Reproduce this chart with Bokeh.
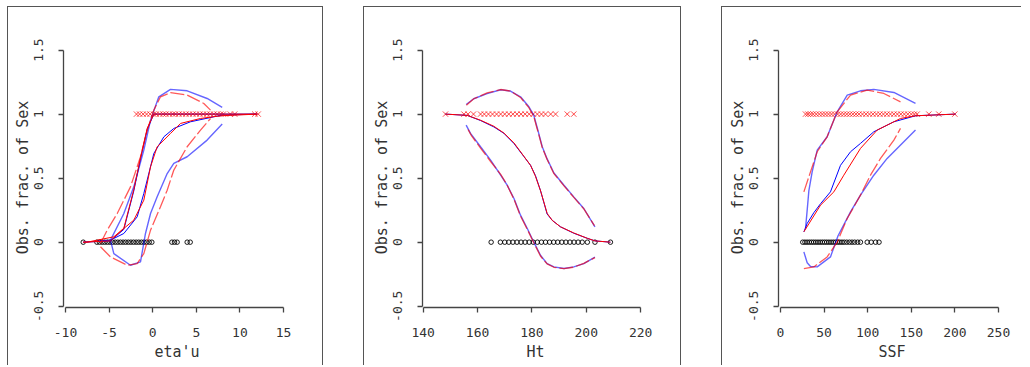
from bokeh.plotting import figure
from bokeh.layouts import row
from bokeh.models import Range1d, FixedTicker, NumeralTickFormatter
from bokeh.embed import file_html
from bokeh.resources import INLINE

# ---------------- data ----------------
# Panel 1 : eta'u
p1_sex1_x = [-1.86, -1.5, -1.1, -0.7, -0.3, 0.1, 0.4, 0.8, 1.2, 1.5, 1.9, 2.3, 2.6, 3.0, 3.4,
             3.8, 4.2, 4.6, 5.0, 5.4, 5.8, 6.2, 6.6, 7.0, 7.4, 7.8, 8.1, 8.9, 9.4, 11.7, 12.1]
p1_sex0_x = [-7.97, -6.4, -6.1, -5.8, -5.5, -5.2, -4.9, -4.6, -4.3, -4.0, -3.7, -3.4, -3.1, -2.8,
             -2.5, -2.2, -1.9, -1.6, -1.3, -1.0, -0.7, -0.4, -0.1, 2.2, 2.5, 2.8, 3.95, 4.3]
p1_blue_up_x = [-4.84, -3.31, -2.17, -1.02, -0.25, 0.70, 2.04, 3.95, 6.24, 7.97]
p1_blue_up_y = [0.016, 0.224, 0.432, 0.719, 0.953, 1.135, 1.193, 1.182, 1.122, 1.052]
p1_blue_fit_x = [-7.97, -4.84, -3.31, -1.78, -1.02, 0.13, 1.28, 2.42, 4.33, 7.01, 7.97, 11.98]
p1_blue_fit_y = [0.0, 0.016, 0.068, 0.198, 0.380, 0.693, 0.823, 0.888, 0.940, 0.979, 0.992, 1.0]
p1_blue_lo_x = [-4.84, -4.46, -2.55, -1.40, -0.83, -0.25, 0.51, 1.66, 2.42, 3.95, 6.24, 7.97]
p1_blue_lo_y = [0.016, -0.089, -0.180, -0.154, 0.068, 0.224, 0.354, 0.536, 0.615, 0.667, 0.797, 0.922]
p1_blue_st_x = [-7.97, -4.84, -3.31, -2.17, -1.40, -0.63, 0.13, 11.98]
p1_blue_st_y = [0.0, 0.01, 0.10, 0.40, 0.65, 0.88, 1.0, 1.0]
p1_red_up_x = [-5.99, -5.22, -4.07, -2.55, -1.40, -0.63, 0.13, 0.89, 2.04, 3.95, 5.86, 6.63]
p1_red_up_y = [-0.01, 0.094, 0.224, 0.432, 0.667, 0.875, 1.031, 1.135, 1.167, 1.148, 1.083, 1.031]
p1_red_fit_x = [-7.97, -7.52, -4.46, -2.17, -1.02, -0.25, 0.51, 2.04, 3.19, 5.48, 7.77, 11.98]
p1_red_fit_y = [0.0, 0.0, 0.042, 0.172, 0.328, 0.589, 0.745, 0.849, 0.927, 0.966, 0.987, 1.0]
p1_red_lo_x = [-5.99, -4.84, -2.93, -1.78, -1.02, -0.25, 0.89, 1.66, 2.42, 3.95, 5.48, 6.63]
p1_red_lo_y = [-0.036, -0.115, -0.180, -0.167, -0.089, 0.094, 0.276, 0.406, 0.563, 0.745, 0.875, 0.966]
p1_red_st_x = [-7.97, -4.84, -3.31, -2.17, -1.40, -0.63, 0.13, 11.98]
p1_red_st_y = [0.0, 0.01, 0.11, 0.41, 0.66, 0.89, 1.0, 1.0]

# Panel 2 : Ht
p2_sex1_x = [148.2, 155.0, 156.5, 158.5, 161.1, 162.5, 164.0, 165.5, 167.0, 168.5, 170.0, 171.5,
             173.0, 174.5, 176.0, 177.5, 179.0, 180.5, 182.0, 183.5, 185.0, 186.9, 188.7, 193.0, 195.4]
p2_sex0_x = [165.0, 168.4, 170.0, 171.5, 173.0, 174.5, 176.0, 177.5, 179.0, 180.5, 182.0, 183.5,
             185.0, 186.5, 188.0, 189.5, 191.0, 192.5, 194.0, 195.5, 197.0, 198.5, 200.4, 203.2, 208.9]
p2_blue_up_x = [155.8, 158.6, 163.5, 168.5, 172.1, 175.8, 178.9, 180.7, 182.0, 183.8, 185.6, 188.1, 191.8, 195.4, 199.1, 203.2]
p2_blue_up_y = [1.075, 1.12, 1.16, 1.19, 1.18, 1.135, 1.057, 0.99, 0.89, 0.745, 0.65, 0.54, 0.445, 0.354, 0.263, 0.12]
p2_blue_fit_x = [148.2, 156.2, 161.1, 166.0, 169.7, 173.4, 177.0, 179.5, 181.3, 183.2, 185.6, 187.5, 190.5, 195.4, 200.4, 203.2, 208.9]
p2_blue_fit_y = [1.0, 0.99, 0.95, 0.90, 0.85, 0.77, 0.67, 0.60, 0.52, 0.40, 0.22, 0.17, 0.12, 0.07, 0.03, 0.01, 0.0]
p2_blue_lo_x = [155.8, 157.4, 161.1, 164.8, 168.5, 170.9, 173.4, 175.8, 178.3, 180.7, 183.2, 185.6, 188.1, 191.8, 195.4, 199.1, 203.2]
p2_blue_lo_y = [0.914, 0.85, 0.745, 0.641, 0.523, 0.445, 0.341, 0.211, 0.107, 0.0, -0.104, -0.167, -0.193, -0.206, -0.193, -0.167, -0.117]
p2_red_up_x = [155.9, 158.6, 163.5, 168.5, 172.1, 175.8, 178.9, 180.7, 182.0, 183.8, 185.6, 188.1, 191.8, 195.4, 199.1, 203.0]
p2_red_up_y = [1.07, 1.12, 1.165, 1.192, 1.18, 1.13, 1.05, 0.98, 0.88, 0.74, 0.645, 0.535, 0.44, 0.35, 0.26, 0.13]
p2_red_fit_x = [148.2, 156.2, 161.1, 166.0, 169.7, 173.4, 177.0, 179.5, 181.3, 183.2, 185.6, 187.5, 190.5, 195.4, 200.4, 203.2, 208.9]
p2_red_fit_y = [1.0, 0.99, 0.952, 0.905, 0.852, 0.775, 0.672, 0.60, 0.515, 0.40, 0.225, 0.17, 0.12, 0.072, 0.03, 0.01, 0.0]
p2_red_lo_x = [156.5, 157.8, 161.1, 164.8, 168.5, 170.9, 173.4, 175.8, 178.3, 180.7, 183.2, 185.6, 188.1, 191.8, 195.4, 199.1, 203.2]
p2_red_lo_y = [0.88, 0.83, 0.735, 0.63, 0.53, 0.445, 0.335, 0.205, 0.10, -0.005, -0.11, -0.17, -0.196, -0.207, -0.195, -0.165, -0.12]

# Panel 3 : SSF
p3_sex1_x = [28.7, 31.5, 34.5, 37.5, 41.0, 44.5, 48.0, 51.5, 55.0, 58.5, 62.0, 65.5, 69.0, 72.5, 76.0,
             79.5, 83.0, 86.5, 90.0, 94.0, 98.0, 102.0, 106.0, 110.0, 114.0, 118.0, 122.0, 126.0,
             130.0, 134.0, 138.0, 142.0, 146.0, 150.0, 153.5, 156.7, 170.1, 181.5, 199.9]
p3_sex0_x = [25.5, 28.0, 30.5, 33.0, 35.5, 38.0, 40.5, 43.0, 45.5, 48.0, 50.5, 53.0, 55.5, 58.0,
             60.5, 63.0, 65.5, 68.0, 70.5, 73.0, 76.0, 79.0, 82.0, 85.0, 88.5, 91.7, 99.4, 104.0, 109.0, 113.0]
p3_blue_up_x = [28.7, 30.6, 32.5, 36.3, 42.1, 53.5, 65.0, 76.5, 91.7, 107.0, 130.0, 154.8]
p3_blue_up_y = [0.107, 0.25, 0.40, 0.549, 0.719, 0.823, 1.018, 1.148, 1.182, 1.193, 1.169, 1.083]
p3_blue_fit_x = [26.8, 30.6, 38.2, 45.9, 57.3, 68.8, 80.3, 91.7, 107.0, 130.0, 154.8, 200.7]
p3_blue_fit_y = [0.08, 0.146, 0.23, 0.30, 0.393, 0.60, 0.706, 0.771, 0.862, 0.94, 0.987, 1.0]
p3_blue_lo_x = [26.8, 30.6, 34.4, 42.1, 57.3, 66.0, 80.3, 91.7, 107.0, 122.3, 154.8]
p3_blue_lo_y = [-0.076, -0.16, -0.19, -0.193, -0.115, 0.05, 0.237, 0.367, 0.523, 0.654, 0.875]
p3_red_up_x = [26.8, 34.4, 42.1, 53.5, 65.0, 80.3, 99.4, 118.5, 137.6]
p3_red_up_y = [0.393, 0.549, 0.706, 0.823, 1.018, 1.148, 1.188, 1.161, 1.096]
p3_red_fit_x = [26.8, 45.9, 61.2, 72.6, 91.7, 110.8, 137.6, 154.8, 200.7]
p3_red_fit_y = [0.081, 0.289, 0.393, 0.523, 0.732, 0.875, 0.966, 0.987, 1.0]
p3_red_lo_x = [26.8, 38.2, 53.5, 65.0, 76.5, 91.7, 103.2, 114.7, 130.0, 137.6]
p3_red_lo_y = [-0.206, -0.193, -0.115, 0.0, 0.185, 0.367, 0.523, 0.654, 0.797, 0.888]

y_ticks = [-0.5, 0, 0.5, 1, 1.5]
p1_xticks = [-10, -5, 0, 5, 10, 15]
p2_xticks = [140, 160, 180, 200, 220]
p3_xticks = [0, 50, 100, 150, 200, 250]
y_label = "Obs. frac. of Sex"

FONT = "DejaVu Sans Mono"
TXT = "#333333"
AX = "#444444"
FRAME = "#555555"


def make_panel(width, bl, br, xr, xticks, xlabel, right_edge=True):
    p = figure(width=width, height=359, output_backend="svg", toolbar_location=None,
               x_range=Range1d(*xr), y_range=Range1d(-0.51, 1.52),
               min_border_left=bl, min_border_right=br, min_border_top=41, min_border_bottom=58)
    p.background_fill_alpha = 0
    p.border_fill_alpha = 0
    p.outline_line_color = None
    p.grid.visible = False
    shadow = "inset 1px 1px 0 0 %s" % FRAME
    if right_edge:
        shadow += ", inset -1px 0 0 0 %s" % FRAME
    p.styles = {"box-shadow": shadow}

    for ax in (p.xaxis[0], p.yaxis[0]):
        ax.axis_line_color = AX
        ax.axis_line_width = 1.3
        ax.major_tick_line_color = AX
        ax.major_tick_line_width = 1.3
        ax.major_tick_out = 5
        ax.major_tick_in = 0
        ax.minor_tick_line_color = None
        ax.major_label_text_font = FONT
        ax.major_label_text_font_size = "13px"
        ax.major_label_text_color = TXT
        ax.axis_label_text_font = FONT
        ax.axis_label_text_font_size = "15px"
        ax.axis_label_text_font_style = "normal"
        ax.axis_label_text_color = TXT

    xa = p.xaxis[0]
    xa.ticker = FixedTicker(ticks=xticks)
    xa.formatter = NumeralTickFormatter(format="0")
    xa.bounds = (xticks[0], xticks[-1])
    xa.major_label_standoff = 15
    xa.axis_label = xlabel
    xa.axis_label_standoff = 3

    ya = p.yaxis[0]
    ya.ticker = FixedTicker(ticks=y_ticks)
    ya.formatter = NumeralTickFormatter(format="0.[0]")
    ya.bounds = (y_ticks[0], y_ticks[-1])
    ya.major_label_orientation = "vertical"
    ya.major_label_standoff = 15
    ya.axis_label = y_label
    ya.axis_label_standoff = 0
    return p


def add_data(p, s1, s0, blue, red):
    p.scatter(s1, [1] * len(s1), marker="x", size=7.5, line_color="red", line_alpha=0.7, line_width=1)
    p.scatter(s0, [0] * len(s0), marker="circle", size=4.5, fill_color=None, line_color="black", line_width=0.9)
    for i, (xs, ys) in enumerate(blue):
        if i == 1 or i == 3:
            p.line(xs, ys, line_color="blue", line_width=1.0)
        else:
            p.line(xs, ys, line_color="blue", line_width=1.4, line_alpha=0.6)
    for i, (xs, ys) in enumerate(red):
        if i == 1 or i == 3:
            p.line(xs, ys, line_color="red", line_width=1.0)
        else:
            p.line(xs, ys, line_color="red", line_width=1.3, line_alpha=0.65, line_dash="14 3")


p1 = make_panel(316, 56, 33, (-10.23, 15.8), p1_xticks, "eta'u")
add_data(p1, p1_sex1_x, p1_sex0_x,
         [(p1_blue_up_x, p1_blue_up_y), (p1_blue_fit_x, p1_blue_fit_y), (p1_blue_lo_x, p1_blue_lo_y), (p1_blue_st_x, p1_blue_st_y)],
         [(p1_red_up_x, p1_red_up_y), (p1_red_fit_x, p1_red_fit_y), (p1_red_lo_x, p1_red_lo_y), (p1_red_st_x, p1_red_st_y)])

p2 = make_panel(318, 59, 33, (139.74, 222.9), p2_xticks, "Ht")
add_data(p2, p2_sex1_x, p2_sex0_x,
         [(p2_blue_up_x, p2_blue_up_y), (p2_blue_fit_x, p2_blue_fit_y), (p2_blue_lo_x, p2_blue_lo_y)],
         [(p2_red_up_x, p2_red_up_y), (p2_red_fit_x, p2_red_fit_y), (p2_red_lo_x, p2_red_lo_y)])

p3 = make_panel(300, 57, 16, (-2.29, 258.0), p3_xticks, "SSF", right_edge=False)
add_data(p3, p3_sex1_x, p3_sex0_x,
         [(p3_blue_up_x, p3_blue_up_y), (p3_blue_fit_x, p3_blue_fit_y), (p3_blue_lo_x, p3_blue_lo_y)],
         [(p3_red_up_x, p3_red_up_y), (p3_red_fit_x, p3_red_fit_y), (p3_red_lo_x, p3_red_lo_y)])

layout = row(p1, p2, p3, spacing=40)
layout.styles = {"margin-left": "7px", "margin-top": "6px"}
open("out.html", "w").write(file_html(layout, INLINE))
